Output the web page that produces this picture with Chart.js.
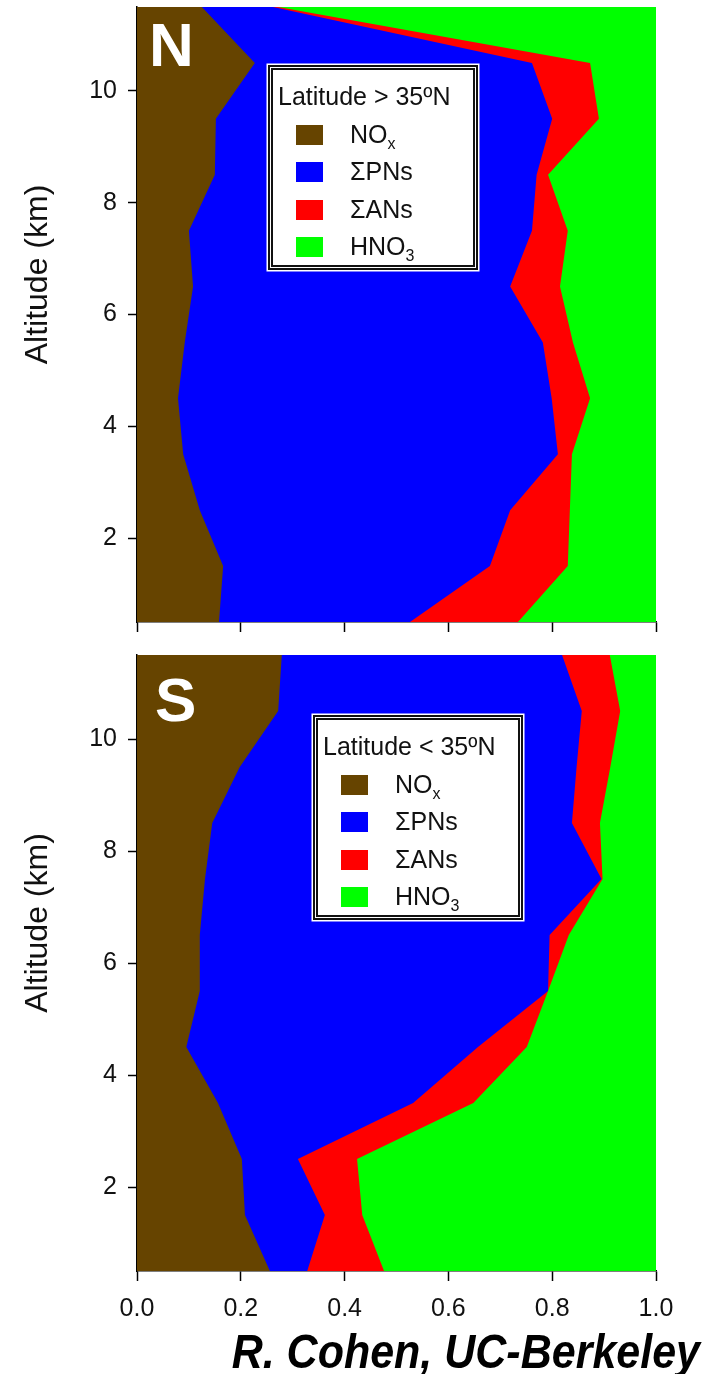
<!DOCTYPE html>
<html>
<head>
<meta charset="utf-8">
<script src="https://cdn.jsdelivr.net/npm/chart.js@4.4.1/dist/chart.umd.min.js"></script>
<style>
  body { margin: 0; background: #fff; font-family: 'Liberation Sans', Arial, sans-serif; }
  #page { position: relative; width: 717px; height: 1374px; overflow: hidden; background: #fff; }
  canvas { position: absolute; left: 0; }
  .tag { position: absolute; color: #fff; font-weight: bold; font-size: 62px; line-height: 1; }
  .legend {
    position: absolute; box-sizing: border-box; width: 210px; height: 205px;
    background: #fff; border: 5px double #111; box-shadow: 0 0 0 1.5px #fff;
    color: #111; font-size: 25px; padding-top: 8px;
  }
  .legend .row { position: relative; height: 37.5px; line-height: 37.5px; white-space: nowrap; }
  .legend .title { padding-left: 5px; }
  .legend .sw { position: absolute; left: 23px; top: 9px; width: 27px; height: 20px; }
  .legend .txt { position: absolute; left: 77px; }
  .legend sub { font-size: 16px; vertical-align: -6px; line-height: 0; }
  .credit {
    position: absolute; right: 17px; top: 1328px; font-size: 43px; line-height: 1;
    font-weight: bold; font-style: italic; color: #000;
    transform: scaleY(1.1); transform-origin: right top;
  }
</style>
</head>
<body>
<div id="page">
  <canvas id="north" width="717" height="645" style="top:0"></canvas>
  <canvas id="south" width="717" height="729" style="top:645px"></canvas>
  <div class="tag" style="left:149px; top:14px">N</div>
  <div class="tag" style="left:155px; top:669px">S</div>
  <div class="legend" id="legN" style="left:268px; top:65px"></div>
  <div class="legend" id="legS" style="left:313px; top:715px"></div>
  <div class="credit">R. Cohen, UC-Berkeley</div>
</div>
<script>
// altitude bins (km), bottom to top
const altitudes = [0.5, 1.5, 2.5, 3.5, 4.5, 5.5, 6.5, 7.5, 8.5, 9.5, 10.5, 11.5];

// fraction of NOy in each species, latitude > 35N
const northNOx  = [0.158, 0.166, 0.121, 0.089, 0.079, 0.092, 0.108, 0.100, 0.150, 0.152, 0.227, 0.125];
const northPNs  = [0.368, 0.514, 0.598, 0.722, 0.720, 0.690, 0.611, 0.661, 0.620, 0.648, 0.534, 0.137];
const northANs  = [0.208, 0.150, 0.115, 0.027, 0.074, 0.058, 0.096, 0.069, 0.022, 0.090, 0.112, 0.010];
const northHNO3 = [0.266, 0.170, 0.166, 0.162, 0.127, 0.160, 0.185, 0.170, 0.208, 0.110, 0.127, 0.728];

// latitude < 35N
const southNOx  = [0.256, 0.208, 0.202, 0.156, 0.095, 0.121, 0.121, 0.131, 0.145, 0.198, 0.272, 0.279];
const southPNs  = [0.072, 0.154, 0.108, 0.376, 0.562, 0.671, 0.674, 0.764, 0.693, 0.649, 0.585, 0.540];
const southANs  = [0.148, 0.072, 0.114, 0.116, 0.094, 0.000, 0.037, 0.002, 0.054, 0.065, 0.074, 0.092];
const southHNO3 = [0.524, 0.566, 0.576, 0.352, 0.249, 0.208, 0.168, 0.103, 0.108, 0.088, 0.069, 0.089];

const seriesNames = ['NO', '\u03A3PNs', '\u03A3ANs', 'HNO'];
const seriesSubs = ['x', '', '', '3'];
const seriesColors = ['#664400', '#0000ff', '#ff0000', '#00ff00'];

const xTicks = [0, 0.2, 0.4, 0.6, 0.8, 1.0];
const yTicks = [2, 4, 6, 8, 10];

const FONT = "'Liberation Sans', Arial, sans-serif";
// leading en spaces nudge the rotated title up, like the original
const Y_TITLE = '\u2002\u2002\u2002\u2002\u2002Altitude (km)';

function buildLegend(el, title) {
  let html = '<div class="row title">' + title + '</div>';
  seriesNames.forEach((name, i) => {
    const sub = seriesSubs[i] ? '<sub>' + seriesSubs[i] + '</sub>' : '';
    html += '<div class="row"><span class="sw" style="background:' + seriesColors[i] + '"></span>' +
      '<span class="txt">' + name + sub + '</span></div>';
  });
  el.innerHTML = html;
}

function buildPanel(id, series, showXLabels, padTop, xAxisHeight) {
  const ctx = document.getElementById(id).getContext('2d');
  return new Chart(ctx, {
    type: 'line',
    data: {
      datasets: series.map((vals, i) => ({
        label: seriesNames[i] + seriesSubs[i],
        data: altitudes.map((a, j) => ({ x: vals[j], y: a })),
        backgroundColor: seriesColors[i],
        borderColor: 'transparent',
        borderWidth: 0,
        pointRadius: 0,
        fill: 'origin',
        tension: 0
      }))
    },
    options: {
      indexAxis: 'y',
      responsive: false,
      animation: false,
      events: [],
      layout: { padding: { left: 0, top: padTop, right: 61, bottom: 0 } },
      plugins: { legend: { display: false }, tooltip: { enabled: false } },
      scales: {
        x: {
          type: 'linear', stacked: true, min: 0, max: 1,
          border: { display: true, color: '#000', width: 1.5 },
          grid: { drawOnChartArea: false, drawTicks: true, tickLength: 10, color: '#000', tickWidth: 1.5 },
          ticks: {
            display: showXLabels, padding: 13, color: '#111',
            font: { family: FONT, size: 25 },
            callback: v => v.toFixed(1)
          },
          afterBuildTicks: s => { s.ticks = xTicks.map(v => ({ value: v })); },
          afterFit: s => { s.height = xAxisHeight; s.paddingLeft = 0; s.paddingRight = 0; }
        },
        y: {
          type: 'linear', min: 0.5, max: 11.5,
          border: { display: true, color: '#000', width: 1.5 },
          grid: { drawOnChartArea: false, drawTicks: true, tickLength: 9, color: '#000', tickWidth: 1.5 },
          ticks: { padding: 11, color: '#111', font: { family: FONT, size: 25 } },
          afterBuildTicks: s => { s.ticks = yTicks.map(v => ({ value: v })); },
          title: {
            display: true, text: Y_TITLE, color: '#111',
            font: { family: FONT, size: 32 }, padding: { top: 19, bottom: 0 }
          },
          afterFit: s => { s.width = 137; s.paddingTop = 0; s.paddingBottom = 0; }
        }
      }
    }
  });
}

buildLegend(document.getElementById('legN'), 'Latitude &gt; 35\u00BAN');
buildLegend(document.getElementById('legS'), 'Latitude &lt; 35\u00BAN');

buildPanel('north', [northNOx, northPNs, northANs, northHNO3], false, 7, 23);
buildPanel('south', [southNOx, southPNs, southANs, southHNO3], true, 10, 103);
</script>
</body>
</html>
